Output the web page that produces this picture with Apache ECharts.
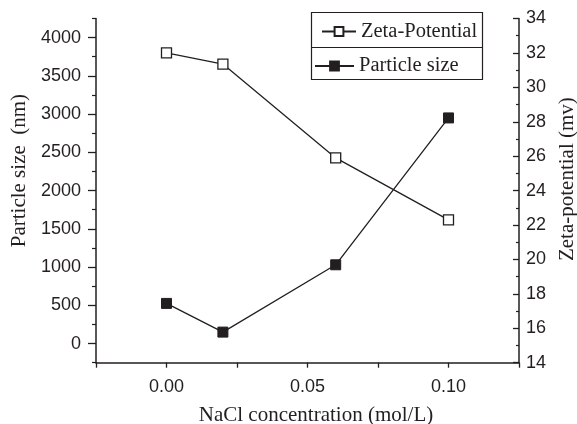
<!DOCTYPE html>
<html>
<head>
<meta charset="utf-8">
<script src="https://cdn.jsdelivr.net/npm/echarts@6/dist/echarts.min.js"></script>
<style>html,body{margin:0;padding:0;background:#fff}#c{width:577px;height:424px}</style>
</head>
<body>
<div id="c"></div>
<script>
// ---- data ----
var xValues = [0, 0.02, 0.06, 0.10];
var particleSize = [525, 150, 1030, 2950];
var zetaPotential = [32.0, 31.35, 25.9, 22.3];
var xTickValues = [-0.025, 0, 0.025, 0.05, 0.075, 0.1, 0.125];
var xLabelValues = [0, 0.05, 0.1];
var leftMajorValues = [0, 500, 1000, 1500, 2000, 2500, 3000, 3500, 4000];
var leftMinorValues = [-250, 250, 750, 1250, 1750, 2250, 2750, 3250, 3750, 4250];

var INK = '#231f20';
var SERIF = '"Liberation Serif", "Times New Roman", serif';
var SANS = '"Liberation Sans", Arial, sans-serif';

function pairs(xs, ys) { return xs.map(function (x, i) { return [x, ys[i]]; }); }

var chart = echarts.init(document.getElementById('c'), null, {renderer: 'canvas'});
chart.setOption({
  animation: false,
  backgroundColor: '#fff',
  grid: {left: 96, right: 58, top: 18.5, bottom: 61.3, containLabel: false, outerBoundsMode: 'none'},
  legend: [
    {data: ['Zeta-Potential'], left: 321, top: 21, padding: 0, itemWidth: 34, itemHeight: 11, itemGap: 0,
     textStyle: {fontFamily: SERIF, fontSize: 20.5, color: INK, padding: [0, 0, 0, 0]}},
    {data: ['Particle size'], left: 314, top: 55.5, padding: 0, itemWidth: 39, itemHeight: 11, itemGap: 0,
     textStyle: {fontFamily: SERIF, fontSize: 20.5, color: INK}}
  ],
  graphic: [
    {type: 'rect', shape: {x: 311.5, y: 12.5, width: 171, height: 67}, style: {fill: 'none', stroke: INK, lineWidth: 1.2}, z: 100},
    {type: 'line', shape: {x1: 311.5, y1: 47.5, x2: 482.5, y2: 47.5}, style: {stroke: INK, lineWidth: 1.2}, z: 100}
  ],
  xAxis: {
    type: 'value', min: -0.025, max: 0.125, interval: 0.025,
    name: 'NaCl concentration (mol/L)', nameLocation: 'middle', nameGap: 42,
    nameTextStyle: {fontFamily: SERIF, fontSize: 21, color: INK, padding: [0, 0, 0, 17]},
    axisLine: {show: true, onZero: false, lineStyle: {color: INK, width: 1.5}},
    axisTick: {show: true, length: 5, lineStyle: {color: INK, width: 1.3}, customValues: xTickValues},
    axisLabel: {fontFamily: SANS, fontSize: 18, color: INK, margin: 15, customValues: xLabelValues,
      formatter: function (v) { return v.toFixed(2); }},
    splitLine: {show: false}
  },
  yAxis: [
    {
      type: 'value', position: 'left', min: -250, max: 4250,
      name: 'Particle size  (nm)', nameLocation: 'middle', nameGap: 65, nameRotate: 90,
      nameTextStyle: {fontFamily: SERIF, fontSize: 21, color: INK, padding: [0, 0, 0, 40]},
      axisLine: {show: true, onZero: false, lineStyle: {color: INK, width: 1.5}},
      axisTick: {show: true, length: 8, lineStyle: {color: INK, width: 1.3}, customValues: leftMajorValues},
      axisLabel: {fontFamily: SANS, fontSize: 18, color: INK, margin: 15, customValues: leftMajorValues,
        formatter: function (v) { return String(v); }},
      splitLine: {show: false}
    },
    {
      type: 'value', position: 'right', min: 14, max: 34, interval: 2,
      name: 'Zeta-potential (mv)', nameLocation: 'middle', nameGap: 38, nameRotate: 90,
      nameTextStyle: {fontFamily: SERIF, fontSize: 21, color: INK, padding: [0, 0, 0, 23]},
      axisLine: {show: true, onZero: false, lineStyle: {color: INK, width: 1.5}},
      axisTick: {show: true, inside: true, length: 6, lineStyle: {color: INK, width: 1.3}},
      minorTick: {show: true, splitNumber: 2, length: 3, lineStyle: {color: INK, width: 1.2}},
      axisLabel: {fontFamily: SANS, fontSize: 18, color: INK, margin: 7},
      splitLine: {show: false}
    },
    {
      type: 'value', position: 'left', min: -250, max: 4250,
      axisLine: {show: false, onZero: false},
      axisTick: {show: true, length: 4, lineStyle: {color: INK, width: 1.2}, customValues: leftMinorValues},
      axisLabel: {show: false},
      splitLine: {show: false}
    }
  ],
  series: [
    {
      name: 'Zeta-Potential', type: 'line', yAxisIndex: 1,
      data: pairs(xValues, zetaPotential),
      symbol: 'rect', symbolSize: 10,
      lineStyle: {color: INK, width: 1.3},
      itemStyle: {color: '#fff', borderColor: INK, borderWidth: 1.3},
      z: 3
    },
    {
      name: 'Particle size', type: 'line', yAxisIndex: 0,
      data: pairs(xValues, particleSize),
      symbol: 'rect', symbolSize: 10,
      lineStyle: {color: INK, width: 1.3},
      itemStyle: {color: INK, borderColor: INK, borderWidth: 1},
      z: 3
    }
  ]
});
</script>
</body>
</html>
